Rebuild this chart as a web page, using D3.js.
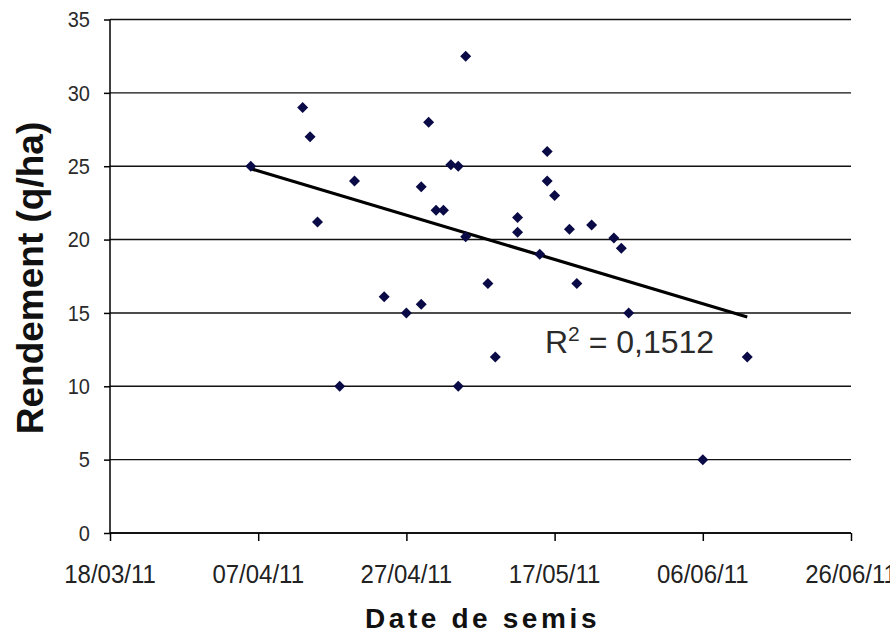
<!DOCTYPE html>
<html>
<head>
<meta charset="utf-8">
<script src="https://cdn.jsdelivr.net/npm/d3@7"></script>
<style>
  html, body { margin: 0; padding: 0; background: #fff; }
  svg { display: block; }
</style>
</head>
<body>
<svg id="chart" width="890" height="636"></svg>
<script>
// ---- data ----
const sowingDates = [
  "06/04/11","13/04/11","14/04/11","15/04/11","18/04/11","20/04/11","24/04/11","27/04/11",
  "29/04/11","29/04/11","30/04/11","01/05/11","02/05/11","03/05/11","04/05/11","04/05/11",
  "05/05/11","05/05/11","08/05/11","09/05/11","12/05/11","12/05/11","15/05/11","16/05/11",
  "16/05/11","17/05/11","19/05/11","20/05/11","22/05/11","25/05/11","26/05/11","27/05/11",
  "06/06/11","12/06/11"
];
const yields = [
  25, 29, 27, 21.2, 10, 24, 16.1, 15,
  15.6, 23.6, 28, 22, 22, 25.1, 25, 10,
  32.5, 20.2, 17, 12, 21.5, 20.5, 19, 26,
  24, 23, 20.7, 17, 21, 20.1, 19.4, 15,
  5, 12
];
const xTickLabels = ["18/03/11","07/04/11","27/04/11","17/05/11","06/06/11","26/06/11"];
const yTickValues = [0, 5, 10, 15, 20, 25, 30, 35];
const xTitle = "Date de semis";
const yTitle = "Rendement (q/ha)";
const r2Text = ["R", "2", " = 0,1512"];

(function () {
// ---- setup ----
const parse = d3.utcParse("%d/%m/%y");
const fmt = d3.utcFormat("%d/%m/%y");
const points = sowingDates.map((s, i) => ({ date: parse(s), value: yields[i] }));
const xTicks = xTickLabels.map(parse);

const svg = d3.select("#chart");
const pLeft = 110, pRight = 851, pTop = 19.5, pBottom = 533;

const x = d3.scaleUtc().domain([xTicks[0], xTicks[xTicks.length - 1]]).range([pLeft, pRight]);
const y = d3.scaleLinear().domain([0, 35]).range([pBottom, pTop]);

// y axis ticks (outward)
const yAxis = d3.axisLeft(y).tickValues(yTickValues).tickSize(6).tickFormat("");
const gy = svg.append("g").attr("transform", `translate(${pLeft},0)`).call(yAxis);
gy.select(".domain").remove();
gy.selectAll(".tick line").attr("stroke", "#000").attr("stroke-width", 1.5);

// gridlines
svg.append("g").selectAll("line").data(yTickValues).join("line")
  .attr("x1", pLeft).attr("x2", pRight)
  .attr("y1", d => y(d)).attr("y2", d => y(d))
  .attr("stroke", "#111").attr("stroke-width", 1.4);

// y axis line
svg.append("line").attr("x1", pLeft).attr("x2", pLeft).attr("y1", y(35)).attr("y2", pBottom)
  .attr("stroke", "#000").attr("stroke-width", 1.5);

// x axis
const xAxis = d3.axisBottom(x).tickValues(xTicks).tickSize(8).tickFormat("");
const gx = svg.append("g").attr("transform", `translate(0,${pBottom})`).call(xAxis);
gx.select(".domain").attr("stroke", "#000").attr("stroke-width", 1.5).attr("d", `M${pLeft},0H${pRight}`);
gx.selectAll(".tick line").attr("stroke", "#000").attr("stroke-width", 1.5);

// y tick labels
svg.append("g").selectAll("text").data(yTickValues).join("text")
  .attr("transform", d => `translate(90,${y(d)}) scale(1,1.1)`)
  .attr("dy", "0.35em")
  .attr("text-anchor", "end")
  .attr("font-family", "'Liberation Sans', Arial, sans-serif")
  .attr("font-size", 20)
  .attr("fill", "#2a2a2a")
  .text(d => d);

// x tick labels
svg.append("g").selectAll("text").data(xTicks).join("text")
  .attr("transform", d => `translate(${x(d)},583) scale(1,1.1)`)
  .attr("text-anchor", "middle")
  .attr("font-family", "'Liberation Sans', Arial, sans-serif")
  .attr("font-size", 24)
  .attr("fill", "#222")
  .text(d => fmt(d));

// trend line (linear regression on day number)
const dayMs = 86400000;
const xs = points.map(p => p.date.getTime() / dayMs);
const ys = points.map(p => p.value);
const mx = d3.mean(xs), my = d3.mean(ys);
const sxy = d3.sum(xs, (v, i) => (v - mx) * (ys[i] - my));
const sxx = d3.sum(xs, v => (v - mx) * (v - mx));
const slope = sxy / sxx, intercept = my - slope * mx;
const xMin = d3.min(xs), xMax = d3.max(xs);
const trend = [xMin, xMax].map(t => ({ date: new Date(t * dayMs), value: intercept + slope * t }));

svg.append("path")
  .datum(trend)
  .attr("d", d3.line().x(d => x(d.date)).y(d => y(d.value)))
  .attr("fill", "none")
  .attr("stroke", "#000")
  .attr("stroke-width", 3.2);

// markers (diamonds)
const r = 5.5;
svg.append("g").selectAll("path").data(points).join("path")
  .attr("transform", d => `translate(${x(d.date)},${y(d.value)})`)
  .attr("d", `M0,${-r}L${r},0L0,${r}L${-r},0Z`)
  .attr("fill", "#0a0a46");

// R² label
const rt = svg.append("text")
  .attr("x", 545).attr("y", 353)
  .attr("font-family", "'Liberation Sans', Arial, sans-serif")
  .attr("font-size", 32)
  .attr("fill", "#2a2a2a");
rt.append("tspan").text(r2Text[0]);
rt.append("tspan").attr("font-size", 21).attr("dy", -12).text(r2Text[1]);
rt.append("tspan").attr("dy", 12).text(r2Text[2]);

// axis titles
svg.append("text")
  .attr("transform", "translate(43,278) rotate(-90)")
  .attr("text-anchor", "middle")
  .attr("font-family", "'Liberation Sans', Arial, sans-serif")
  .attr("font-weight", "bold")
  .attr("font-size", 37)
  .attr("fill", "#111")
  .text(yTitle);

svg.append("text")
  .attr("x", 482.5).attr("y", 628)
  .attr("text-anchor", "middle")
  .attr("font-family", "'Liberation Sans', Arial, sans-serif")
  .attr("font-weight", "bold")
  .attr("font-size", 28)
  .attr("letter-spacing", "3.6px")
  .attr("fill", "#111")
  .text(xTitle);
})();
</script>
</body>
</html>
